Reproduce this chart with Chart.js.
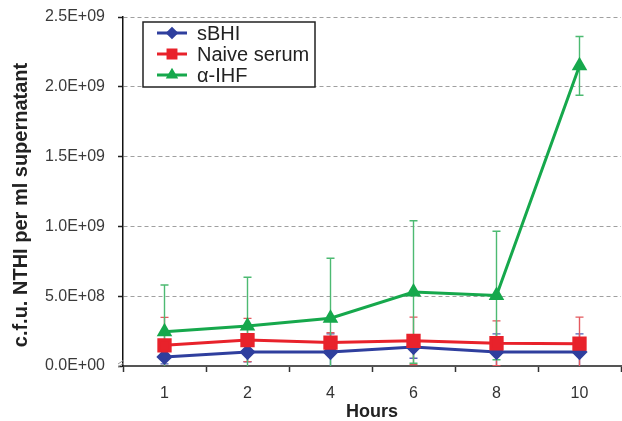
<!DOCTYPE html>
<html>
<head>
<meta charset="utf-8">
<script src="https://cdn.jsdelivr.net/npm/chart.js@4.4.0/dist/chart.umd.min.js"></script>
<style>
  html, body { margin: 0; padding: 0; background: #fff; }
  canvas { display: block; }
</style>
</head>
<body>
<canvas id="chart" width="622" height="421"></canvas>
<script>
// values (c.f.u. per ml)
const hours = ['1', '2', '4', '6', '8', '10']
const sbhi = [6.5e7, 1.0e8, 1.0e8, 1.36e8, 1.0e8, 1.0e8]
const sbhiErr = [5e7, 7e7, 1.3e8, 8e7, 1.3e8, 1.3e8]
const naive = [1.48e8, 1.86e8, 1.68e8, 1.8e8, 1.63e8, 1.6e8]
const naiveErr = [2.0e8, 1.55e8, 7e7, 1.7e8, 1.6e8, 1.9e8]
const ihf = [2.45e8, 2.86e8, 3.42e8, 5.3e8, 5.05e8, 2.15e9]
const ihfErr = [3.35e8, 3.5e8, 4.3e8, 5.1e8, 4.6e8, 2.1e8]

const yTitle = 'c.f.u. NTHI per ml supernatant'

const BLUE = '#2f3f9e'
const RED = '#e8222b'
const GREEN = '#16a84c'
const FONT = '"Liberation Sans", Arial, sans-serif'

const fmtExp = (v) => {
  const [m, e] = Number(v).toExponential(1).split('e')
  return m + 'E' + e[0] + e.slice(1).padStart(2, '0')
}

// error bars drawn through the scales, clipped to the plot
const errorBars = {
  id: 'errorBars',
  beforeDatasetsDraw(chart) {
    const {ctx, chartArea, scales: {x, y}} = chart
    ctx.save()
    ctx.beginPath()
    ctx.rect(chartArea.left, chartArea.top - 2, chartArea.width, chartArea.height + 2)
    ctx.clip()
    chart.data.datasets.forEach((ds) => {
      ctx.strokeStyle = ds.errColor
      ctx.lineWidth = 1.4
      ds.data.forEach((v, i) => {
        const e = ds.err[i]
        const px = x.getPixelForValue(i)
        const top = y.getPixelForValue(v + e)
        const bot = y.getPixelForValue(v - e)
        ctx.beginPath()
        ctx.moveTo(px, top); ctx.lineTo(px, bot)
        ctx.moveTo(px - 4, top); ctx.lineTo(px + 4, top)
        ctx.moveTo(px - 4, bot); ctx.lineTo(px + 4, bot)
        ctx.stroke()
      })
    })
    ctx.restore()
  }
}

// boxed legend inside the plot, y title and the axis break mark
const extras = {
  id: 'extras',
  afterDraw(chart) {
    const {ctx, chartArea} = chart
    const bx = 143, by = 22, bw = 172, bh = 65
    ctx.save()
    ctx.fillStyle = '#fff'
    ctx.fillRect(bx, by, bw, bh)
    ctx.strokeStyle = '#222'
    ctx.lineWidth = 1.5
    ctx.strokeRect(bx, by, bw, bh)
    chart.data.datasets.forEach((ds, i) => {
      const cy = by + 11 + i * 21
      ctx.strokeStyle = ds.borderColor
      ctx.lineWidth = 3
      ctx.beginPath()
      ctx.moveTo(157, cy); ctx.lineTo(187, cy)
      ctx.stroke()
      ctx.fillStyle = ds.borderColor
      Chart.helpers.drawPoint(ctx, {pointStyle: ds.pointStyle, radius: ds.pointRadius * 0.7, rotation: 0, borderWidth: 1}, 172, cy)
      ctx.fillStyle = '#222'
      ctx.font = '20px ' + FONT
      ctx.textBaseline = 'middle'
      ctx.fillText(ds.label, 197, cy + 1)
    })

    ctx.save()
    ctx.translate(21, 205)
    ctx.rotate(-Math.PI / 2)
    ctx.fillStyle = '#222'
    ctx.font = 'bold 20px ' + FONT
    ctx.textAlign = 'center'
    ctx.textBaseline = 'middle'
    ctx.fillText(yTitle, 0, 0)
    ctx.restore()

    ctx.strokeStyle = '#999'
    ctx.lineWidth = 1
    ctx.beginPath()
    ctx.moveTo(chartArea.left - 5, chartArea.bottom - 2); ctx.lineTo(chartArea.left + 1, chartArea.bottom - 6)
    ctx.moveTo(chartArea.left - 5, chartArea.bottom + 1); ctx.lineTo(chartArea.left + 1, chartArea.bottom - 3)
    ctx.stroke()
    ctx.restore()
  }
}

new Chart(document.getElementById('chart'), {
  type: 'line',
  data: {
    labels: hours,
    datasets: [
      {label: 'sBHI', data: sbhi, err: sbhiErr, errColor: '#5262b8', borderColor: BLUE, backgroundColor: BLUE,
        borderWidth: 3, pointStyle: 'rectRot', pointRadius: 6, order: 3},
      {label: 'Naive serum', data: naive, err: naiveErr, errColor: '#e45a5f', borderColor: RED, backgroundColor: RED,
        borderWidth: 3, pointStyle: 'rect', pointRadius: 8, order: 2},
      {label: 'α-IHF', data: ihf, err: ihfErr, errColor: '#4dba72', borderColor: GREEN, backgroundColor: GREEN,
        borderWidth: 3, pointStyle: 'triangle', pointRadius: 6, order: 1}
    ]
  },
  options: {
    responsive: false,
    animation: false,
    devicePixelRatio: 1,
    layout: {autoPadding: false, padding: {top: 17, right: 1, bottom: 0, left: 0}},
    plugins: {legend: {display: false}, tooltip: {enabled: false}},
    scales: {
      x: {
        offset: true,
        grid: {display: true, offset: true, drawOnChartArea: false, drawTicks: true, tickLength: 6, tickColor: '#333', tickWidth: 1.5},
        border: {color: '#555', width: 2},
        ticks: {color: '#333', padding: 12, font: {family: FONT, size: 16}},
        title: {display: true, text: 'Hours', color: '#222', padding: {top: 0, bottom: 0},
          font: {family: FONT, size: 18, weight: 'bold', lineHeight: 1.05}},
        afterFit(scale) {
          scale.height = 55
          scale.paddingLeft = 0
          scale.paddingRight = 0
        }
      },
      y: {
        min: 0,
        max: 2.5e9,
        ticks: {stepSize: 5e8, color: '#3a3a3a', padding: 13, callback: fmtExp,
          font: {family: FONT, size: 16}},
        grid: {color: '#a0a0a0', lineWidth: 1, tickLength: 5, tickColor: '#222', tickWidth: 1.5},
        border: {color: '#111', width: 1.5, dash: [4, 3]},
        afterFit(scale) {
          scale.width = 123
          scale.paddingTop = 0
          scale.paddingBottom = 0
        }
      }
    }
  },
  plugins: [errorBars, extras]
})
</script>
</body>
</html>
